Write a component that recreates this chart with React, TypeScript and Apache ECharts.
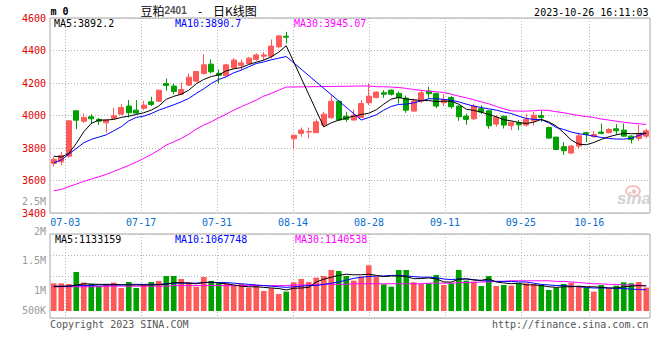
import React, { useEffect, useRef } from "react";
import * as echarts from "echarts";

const dates = ["06-29","06-30","07-03","07-04","07-05","07-06","07-07","07-10","07-11","07-12","07-13","07-14","07-17","07-18","07-19","07-20","07-21","07-24","07-25","07-26","07-27","07-28","07-31","08-01","08-02","08-03","08-04","08-07","08-08","08-09","08-10","08-11","08-14","08-15","08-16","08-17","08-18","08-21","08-22","08-23","08-24","08-25","08-28","08-29","08-30","08-31","09-01","09-04","09-05","09-06","09-07","09-08","09-11","09-12","09-13","09-14","09-15","09-18","09-19","09-20","09-21","09-22","09-25","09-26","09-27","09-28","10-09","10-10","10-11","10-12","10-13","10-16","10-17","10-18","10-19","10-20","10-23","10-24","10-25","10-26"];

const xTickLabels = ["07-03","07-17","07-31","08-14","08-28","09-11","09-25","10-16"];

const opens = [3705,3715,3750,4029,3965,3992,3976,3955,3982,4008, 4058,4033,4045,4084,4088,4197,4181,4131,4187,4211, 4259,4316,4259,4244,4293,4308,4320,4345,4365,4365, 4423,4488,3857,3890,3898,3894,3941,3986,4088,3996, 3972,3988,4078,4111,4140,4156,4136,4107,4027,4088, 4150,4136,4078,4111,4058,3996,3980,4041,4029,3947, 3996,3937,3955,3941,3967,4000,3926,3867,3808,3769, 3812,3894,3869,3898,3894,3918,3910,3873,3859,3873];
const closes = [3730,3754,3967,3971,3988,3980,3965,3972,3998,4049, 4017,4015,4064,4068,4156,4185,4148,4160,4236,4271, 4312,4269,4248,4312,4341,4324,4353,4373,4373,4427, 4490,4482,3879,3910,3902,3961,4008,4088,3972,3976, 4002,4074,4119,4144,4131,4131,4109,4033,4090,4140, 4134,4058,4099,4054,3992,3976,4058,4021,3937,3988, 3941,3959,3943,3976,4002,3988,3861,3791,3783,3812, 3875,3885,3883,3890,3914,3906,3873,3853,3890,3906];
const lows = [3685,3695,3740,3916,3955,3947,3941,3894,3976,4000, 3988,4008,4033,4058,4084,4152,4131,4125,4183,4203, 4252,4259,4197,4242,4289,4279,4316,4336,4341,4351, 4414,4443,3795,3869,3859,3892,3930,3982,3967,3961, 3970,3986,4064,4105,4109,4123,4074,4017,4023,4078, 4105,4045,4058,4041,3967,3943,3972,4008,3918,3931, 3920,3910,3910,3931,3939,3961,3855,3787,3758,3762, 3797,3836,3865,3883,3890,3883,3869,3828,3844,3859];
const highs = [3746,3775,3970,4030,4012,4008,3984,3976,4047,4070, 4095,4095,4090,4115,4158,4228,4197,4203,4259,4273, 4377,4345,4283,4316,4353,4345,4361,4382,4390,4468, 4494,4515,3881,3926,3926,3976,4023,4125,4095,4023, 4037,4095,4197,4148,4156,4160,4148,4123,4105,4156, 4177,4140,4131,4119,4062,4012,4070,4064,4033,4002, 3998,3961,3972,4008,4023,4029,3931,3869,3836,3818, 3894,3900,3904,3951,3922,3947,3951,3879,3941,3918];

const ma5 = [3750,3744,3767,3828,3900,3951,3972,3972,3976,3988, 3996,4006,4017,4033,4058,4100,4118,4131,4156,4195, 4222,4240,4250,4275,4287,4295,4314,4328,4341,4361, 4390,4429,null,null,null,null,3930,3955,3972,3984, 3996,4006,4014,4035,4070,4101,4111,4101,4097,4092, 4092,4086,4088,4088,4070,4039,4031,4021,4006,3992, 3974,3967,3957,3951,3959,3976,3961,3935,3894,3849, 3824,3820,3834,3853,3869,3881,3890,3888,3889,3892.2];
const ma10 = [3709,3726,3762,3797,3832,3853,3867,3881,3906,3931, 3967,3988,3996,4012,4033,4049,4066,4084,4105,4136, 4164,4197,4222,4238,4263,4279,4300,4320,4330,4343, 4353,4363,null,null,null,null,null,null,null,null, null,3972,3988,4004,4033,4056,4068,4070,4078,4090, 4103,4103,4099,4094,4084,4070,4058,4049,4041,4033, 4021,4012,3996,3982,3976,3974,3955,3926,3914,3898, 3888,3881,3873,3865,3859,3855,3855,3859,3878,3890.7];
const ma30 = [3537,3545,3562,3578,3594,3609,3623,3637,3656,3674, 3693,3713,3736,3760,3787,3818,3838,3859,3885,3916, 3941,3961,3986,4008,4033,4054,4074,4095,4119,4136, 4156,4175,null,null,null,null,null,null,null,null, null,null,4182,4177,4177,4175,4172,4167,4160,4154, 4150,4146,4142,4131,4119,4109,4097,4084,4072,4056, 4041,4029,4027,4027,4029,4033,4031,4023,4017,4008, 4000,3994,3988,3978,3972,3965,3959,3953,3949,3945.07];

const volumes = [1178000,1178000,1167000,1367000,1189000,1167000,1133000,1167000,1189000,1100000, 1200000,1100000,1161000,1200000,1217000,1300000,1300000,1250000,1194000,1122000, 1283000,1217000,1178000,1178000,1139000,1167000,1106000,1150000,1050000,1094000, 1000000,1039000,1194000,1250000,1200000,1272000,1300000,1400000,1383000,1300000, 1222000,1289000,1478000,1289000,1161000,1122000,1400000,1400000,1194000,1167000, 1178000,1317000,1150000,1178000,1400000,1222000,1206000,1133000,1300000,1133000, 1150000,1139000,1167000,1178000,1167000,1150000,1067000,1106000,1167000,1189000, 1133000,1106000,1039000,1150000,1094000,1139000,1194000,1178000,1200000,1106000];
const volMa5 = [1122000,1125000,1130000,1150000,1170000,1165000,1160000,1160000,1160000,1155000, 1150000,1150000,1150000,1150000,1155000,1160000,1190000,1190000,1180000,1170000, 1190000,1200000,1180000,1170000,1150000,1130000,1120000,1120000,1110000,1100000, 1090000,1067000,1095000,1100000,1110000,1200000,1245000,1280000,1310000,1330000, 1320000,1320000,1330000,1310000,1290000,1300000,1300000,1290000,1255000,1257000, 1268000,1251000,1201000,1198000,1245000,1253000,1231000,1228000,1252000,1199000, 1184000,1171000,1178000,1153000,1150000,1140000,1120000,1110000,1120000,1120000, 1130000,1120000,1120000,1110000,1100000,1100000,1120000,1130000,1140000,1133159];
const volMa10 = [1130000,1130000,1130000,1140000,1140000,1140000,1150000,1150000,1150000,1150000, 1160000,1160000,1160000,1160000,1160000,1170000,1180000,1180000,1180000,1180000, 1190000,1190000,1190000,1190000,1180000,1170000,1160000,1150000,1140000,1130000, 1120000,1110000,1120000,1130000,1140000,1140000,1160000,1180000,1200000,1230000, 1260000,1280000,1290000,1300000,1300000,1310000,1310000,1300000,1290000,1280000, 1280000,1270000,1250000,1240000,1250000,1250000,1240000,1220000,1220000,1210000, 1210000,1210000,1200000,1200000,1180000,1160000,1150000,1140000,1140000,1130000, 1120000,1110000,1100000,1100000,1100000,1090000,1090000,1080000,1075000,1067748];
const volMa30 = [1120000,1120000,1120000,1120000,1120000,1120000,1120000,1130000,1130000,1130000, 1130000,1130000,1130000,1130000,1130000,1130000,1140000,1140000,1140000,1140000, 1140000,1140000,1140000,1140000,1140000,1140000,1140000,1140000,1140000,1140000, 1140000,1140000,1150000,1150000,1150000,1160000,1160000,1160000,1160000,1160000, 1170000,1170000,1170000,1170000,1170000,1170000,1170000,1170000,1170000,1170000, 1180000,1180000,1180000,1180000,1190000,1190000,1190000,1200000,1200000,1210000, 1210000,1220000,1220000,1220000,1220000,1220000,1220000,1210000,1210000,1200000, 1190000,1180000,1170000,1170000,1160000,1160000,1150000,1150000,1145000,1140538];

const mainMaLatest = ["3892.2", "3890.7", "3945.07"];
const volMaLatest = ["1133159", "1067748", "1140538"];
const volTickValues = [2500000, 2000000, 1500000, 1000000, 500000];
const priceMin = 3400;
const priceMax = 4600;
const priceStep = 200;
const volAxisMin = 716000;
const volAxisMax = 2000000;

const RED = "#ff5a5a";
const GREEN = "#00a000";
const BORDER = "#a8a8a8";
const DOT = "#b4b4b4";
const MONO = '"DejaVu Sans Mono", "Liberation Mono", monospace';

const isTick = (_i: number, v: string) => xTickLabels.includes(v);

function txt(id: string, x: number, y: number, text: string, fill: string, font: string, align = "left", valign = "middle") {
  return {
    type: "text",
    id,
    x,
    y,
    z: 100,
    style: { text, fill, font, align, textAlign: align, verticalAlign: valign, textVerticalAlign: valign },
  };
}

function volLabel(v: number) {
  return v >= 1000000 ? v / 1000000 + "M" : v / 1000 + "K";
}

export default function App() {
  const ref = useRef<HTMLDivElement>(null);
  useEffect(() => {
    const chart = echarts.init(ref.current!, null, { renderer: "svg" });
    const dotted = { color: DOT, type: [1, 2], width: 1 };
    const option: any = {
      animation: false,
      backgroundColor: "#ffffff",
      grid: [
        { left: 50, right: 10, top: 18, height: 195, show: true, borderColor: BORDER, borderWidth: 1 },
        { left: 50, right: 10, top: 234, height: 84, show: true, borderColor: BORDER, borderWidth: 1 },
        { left: 50, right: 10, top: 234, height: 77, show: false },
      ],
      xAxis: [
        { type: "category", gridIndex: 0, data: dates, boundaryGap: true, axisLine: { show: false }, axisTick: { show: false }, axisLabel: { show: false }, splitLine: { show: false } },
        {
          type: "category", gridIndex: 0, data: dates, boundaryGap: false, position: "bottom",
          axisLine: { show: false }, axisTick: { show: false },
          axisLabel: { show: true, interval: isTick, color: "#0a6ed1", fontFamily: MONO, fontSize: 10, margin: 4 },
          splitLine: { show: true, interval: isTick, lineStyle: dotted },
        },
        {
          type: "category", gridIndex: 1, data: dates, boundaryGap: false,
          axisLine: { show: false }, axisTick: { show: false }, axisLabel: { show: false },
          splitLine: { show: true, interval: isTick, lineStyle: dotted },
        },
        { type: "category", gridIndex: 2, data: dates, boundaryGap: true, axisLine: { show: false }, axisTick: { show: false }, axisLabel: { show: false }, splitLine: { show: false } },
      ],
      yAxis: [
        {
          type: "value", gridIndex: 0, min: priceMin, max: priceMax, interval: priceStep,
          axisLine: { show: false }, axisTick: { show: false },
          axisLabel: { color: "#e00000", fontFamily: MONO, fontSize: 10, margin: 4, padding: [0, 0, 2, 0], formatter: (v: number) => String(v) },
          splitLine: { show: true, lineStyle: dotted },
        },
        {
          type: "value", gridIndex: 1, min: 0, max: 4, interval: 1,
          axisLine: { show: false }, axisTick: { show: false }, axisLabel: { show: false },
          splitLine: { show: true, lineStyle: dotted },
        },
        {
          type: "value", gridIndex: 2, min: volAxisMin, max: volAxisMax,
          axisLine: { show: false }, axisTick: { show: false }, axisLabel: { show: false }, splitLine: { show: false },
        },
      ],
      series: [
        {
          type: "candlestick", xAxisIndex: 0, yAxisIndex: 0, barWidth: "75%",
          data: opens.map((o, i) => [o, closes[i], lows[i], highs[i]]),
          itemStyle: { color: RED, color0: GREEN, borderColor: RED, borderColor0: GREEN, borderWidth: 1 },
        },
        { type: "line", xAxisIndex: 0, yAxisIndex: 0, data: ma30, showSymbol: false, connectNulls: true, lineStyle: { color: "#ff00ff", width: 1 }, z: 3 },
        { type: "line", xAxisIndex: 0, yAxisIndex: 0, data: ma10, showSymbol: false, connectNulls: true, lineStyle: { color: "#0000ff", width: 1 }, z: 3 },
        { type: "line", xAxisIndex: 0, yAxisIndex: 0, data: ma5, showSymbol: false, connectNulls: true, lineStyle: { color: "#000000", width: 1 }, z: 3 },
        {
          type: "bar", xAxisIndex: 3, yAxisIndex: 2, barWidth: "75%", data: volumes,
          itemStyle: { color: (p: any) => (closes[p.dataIndex] >= opens[p.dataIndex] ? RED : GREEN) },
        },
        { type: "line", xAxisIndex: 3, yAxisIndex: 2, data: volMa30, showSymbol: false, lineStyle: { color: "#ff00ff", width: 1 }, z: 3 },
        { type: "line", xAxisIndex: 3, yAxisIndex: 2, data: volMa10, showSymbol: false, lineStyle: { color: "#0000ff", width: 1 }, z: 3 },
        { type: "line", xAxisIndex: 3, yAxisIndex: 2, data: volMa5, showSymbol: false, lineStyle: { color: "#000000", width: 1 }, z: 3 },
      ],
    };
    chart.setOption(option);

    const f10 = "10px " + MONO;
    const graphic: any[] = [
      txt("m0", 50.5, 11.5, "m 0", "#000", "bold 10px " + MONO),
      txt("t1", 140.5, 10, "豆粕", "#000", '12px "Noto Sans CJK SC"'),
      txt("t2", 164.5, 10, "2401", "#555", 'bold 10px "Liberation Sans"'),
      txt("t3", 200, 10, "-", "#000", '12px "Noto Sans CJK SC"', "center"),
      txt("t4", 213, 10, "日K线图", "#000", '12px "Noto Sans CJK SC"'),
      txt("ts", 648.5, 12, "2023-10-26 16:11:03", "#000", f10, "right"),
      txt("m5", 54, 23.7, "MA5:" + mainMaLatest[0], "#000", f10),
      txt("m10", 175, 23.7, "MA10:" + mainMaLatest[1], "#0000ff", f10),
      txt("m30", 294, 23.7, "MA30:" + mainMaLatest[2], "#ff00ff", f10),
      txt("v5", 55, 239.5, "MA5:" + volMaLatest[0], "#000", f10),
      txt("v10", 175, 239.5, "MA10:" + volMaLatest[1], "#0000ff", f10),
      txt("v30", 295, 239.5, "MA30:" + volMaLatest[2], "#ff00ff", f10),
      txt("cp", 50, 324.5, "Copyright 2023 SINA.COM", "#555", f10),
      txt("url", 648.5, 324.5, "http://finance.sina.com.cn", "#555", f10, "right"),
      { type: "ellipse", id: "eye1", z: 1, shape: { cx: 633, cy: 191, rx: 7, ry: 5 }, style: { fill: "none", stroke: "#f2c0c0", lineWidth: 2 } },
      { type: "circle", id: "eye2", z: 1, shape: { cx: 634, cy: 191.5, r: 2.2 }, style: { fill: "#f2c0c0" } },
      txt("wm", 651, 207, "sina", "#d2d2d2", 'italic bold 17px "Liberation Sans"', "right", "bottom"),
    ];
    volTickValues.forEach((v, k) => {
      const py = chart.convertToPixel({ yAxisIndex: 2 } as any, v) as number;
      graphic.push(txt("vl" + k, 46, Math.min(py - 3, 310.3), volLabel(v), "#999", f10, "right"));
    });
    chart.setOption({ graphic });
    return () => chart.dispose();
  }, []);
  return <div ref={ref} style={{ width: 660, height: 360, position: "absolute", left: 0, top: 0 }} />;
}
